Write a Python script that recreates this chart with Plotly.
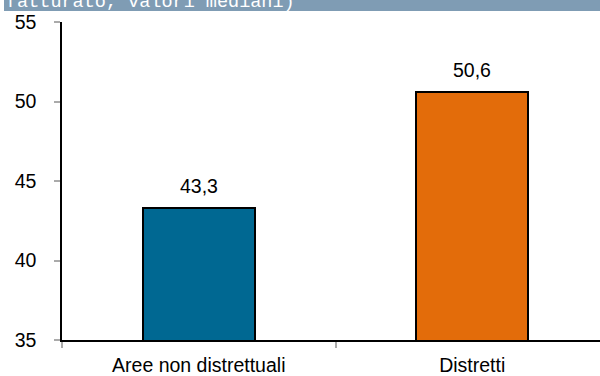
import plotly.graph_objects as go

categories = ["Aree non distrettuali", "Distretti"]
values = [43.3, 50.6]
labels = ["43,3", "50,6"]
colors = ["#006892", "#e36c0a"]
yticks = [35, 40, 45, 50, 55]
header_text = "fatturato, valori mediani)"

W, H = 600, 376
L, T, B = 62, 22, 34
PW = W - L
PH = H - T - B
FONT = "Liberation Sans, Arial"
FS = 19.5

def px_x(p):
    return (p - L) / PW

def px_y(p):
    return (H - B - p) / PH

fig = go.Figure()
fig.add_trace(go.Bar(
    x=categories, y=values, width=0.41,
    marker=dict(color=colors, line=dict(color="#000000", width=2)),
    hoverinfo="skip",
))

for c, v, t in zip(categories, values, labels):
    fig.add_annotation(x=c, y=v, text=t, showarrow=False, yanchor="bottom",
                       yshift=9, font=dict(family=FONT, size=FS, color="#000"))

fig.add_shape(type="rect", xref="paper", yref="paper",
              x0=px_x(4), x1=px_x(600), y0=px_y(11), y1=px_y(-2),
              fillcolor="#7f9cb4", line=dict(width=0), layer="above")
fig.add_annotation(xref="paper", yref="paper", x=px_x(4), y=px_y(15), xanchor="left", yanchor="bottom",
                   text=header_text, showarrow=False,
                   font=dict(family="Liberation Mono, Courier New", size=18.5, color="#ffffff"))

fig.update_layout(
    width=W, height=H,
    margin=dict(l=L, r=0, t=T, b=B),
    plot_bgcolor="#ffffff", paper_bgcolor="#ffffff",
    showlegend=False,
    bargap=0,
    font=dict(family=FONT, size=FS, color="#000"),
)
fig.update_xaxes(
    range=[-0.5, 1.5 - 9 / 273.5], showgrid=False, showline=True, linecolor="#000", linewidth=1.5,
    ticks="outside", tickson="boundaries", ticklen=6, tickcolor="#aaaaaa", tickwidth=2,
    tickfont=dict(family=FONT, size=FS), ticklabelstandoff=7,
)
fig.update_yaxes(
    range=[35, 55], tickvals=yticks, showgrid=False, showline=True, linecolor="#000", linewidth=1.5,
    ticks="outside", ticklen=6, tickcolor="#aaaaaa", tickwidth=1.5,
    tickfont=dict(family=FONT, size=FS), ticklabelstandoff=14, zeroline=False,
)

fig.write_html("out.html")
